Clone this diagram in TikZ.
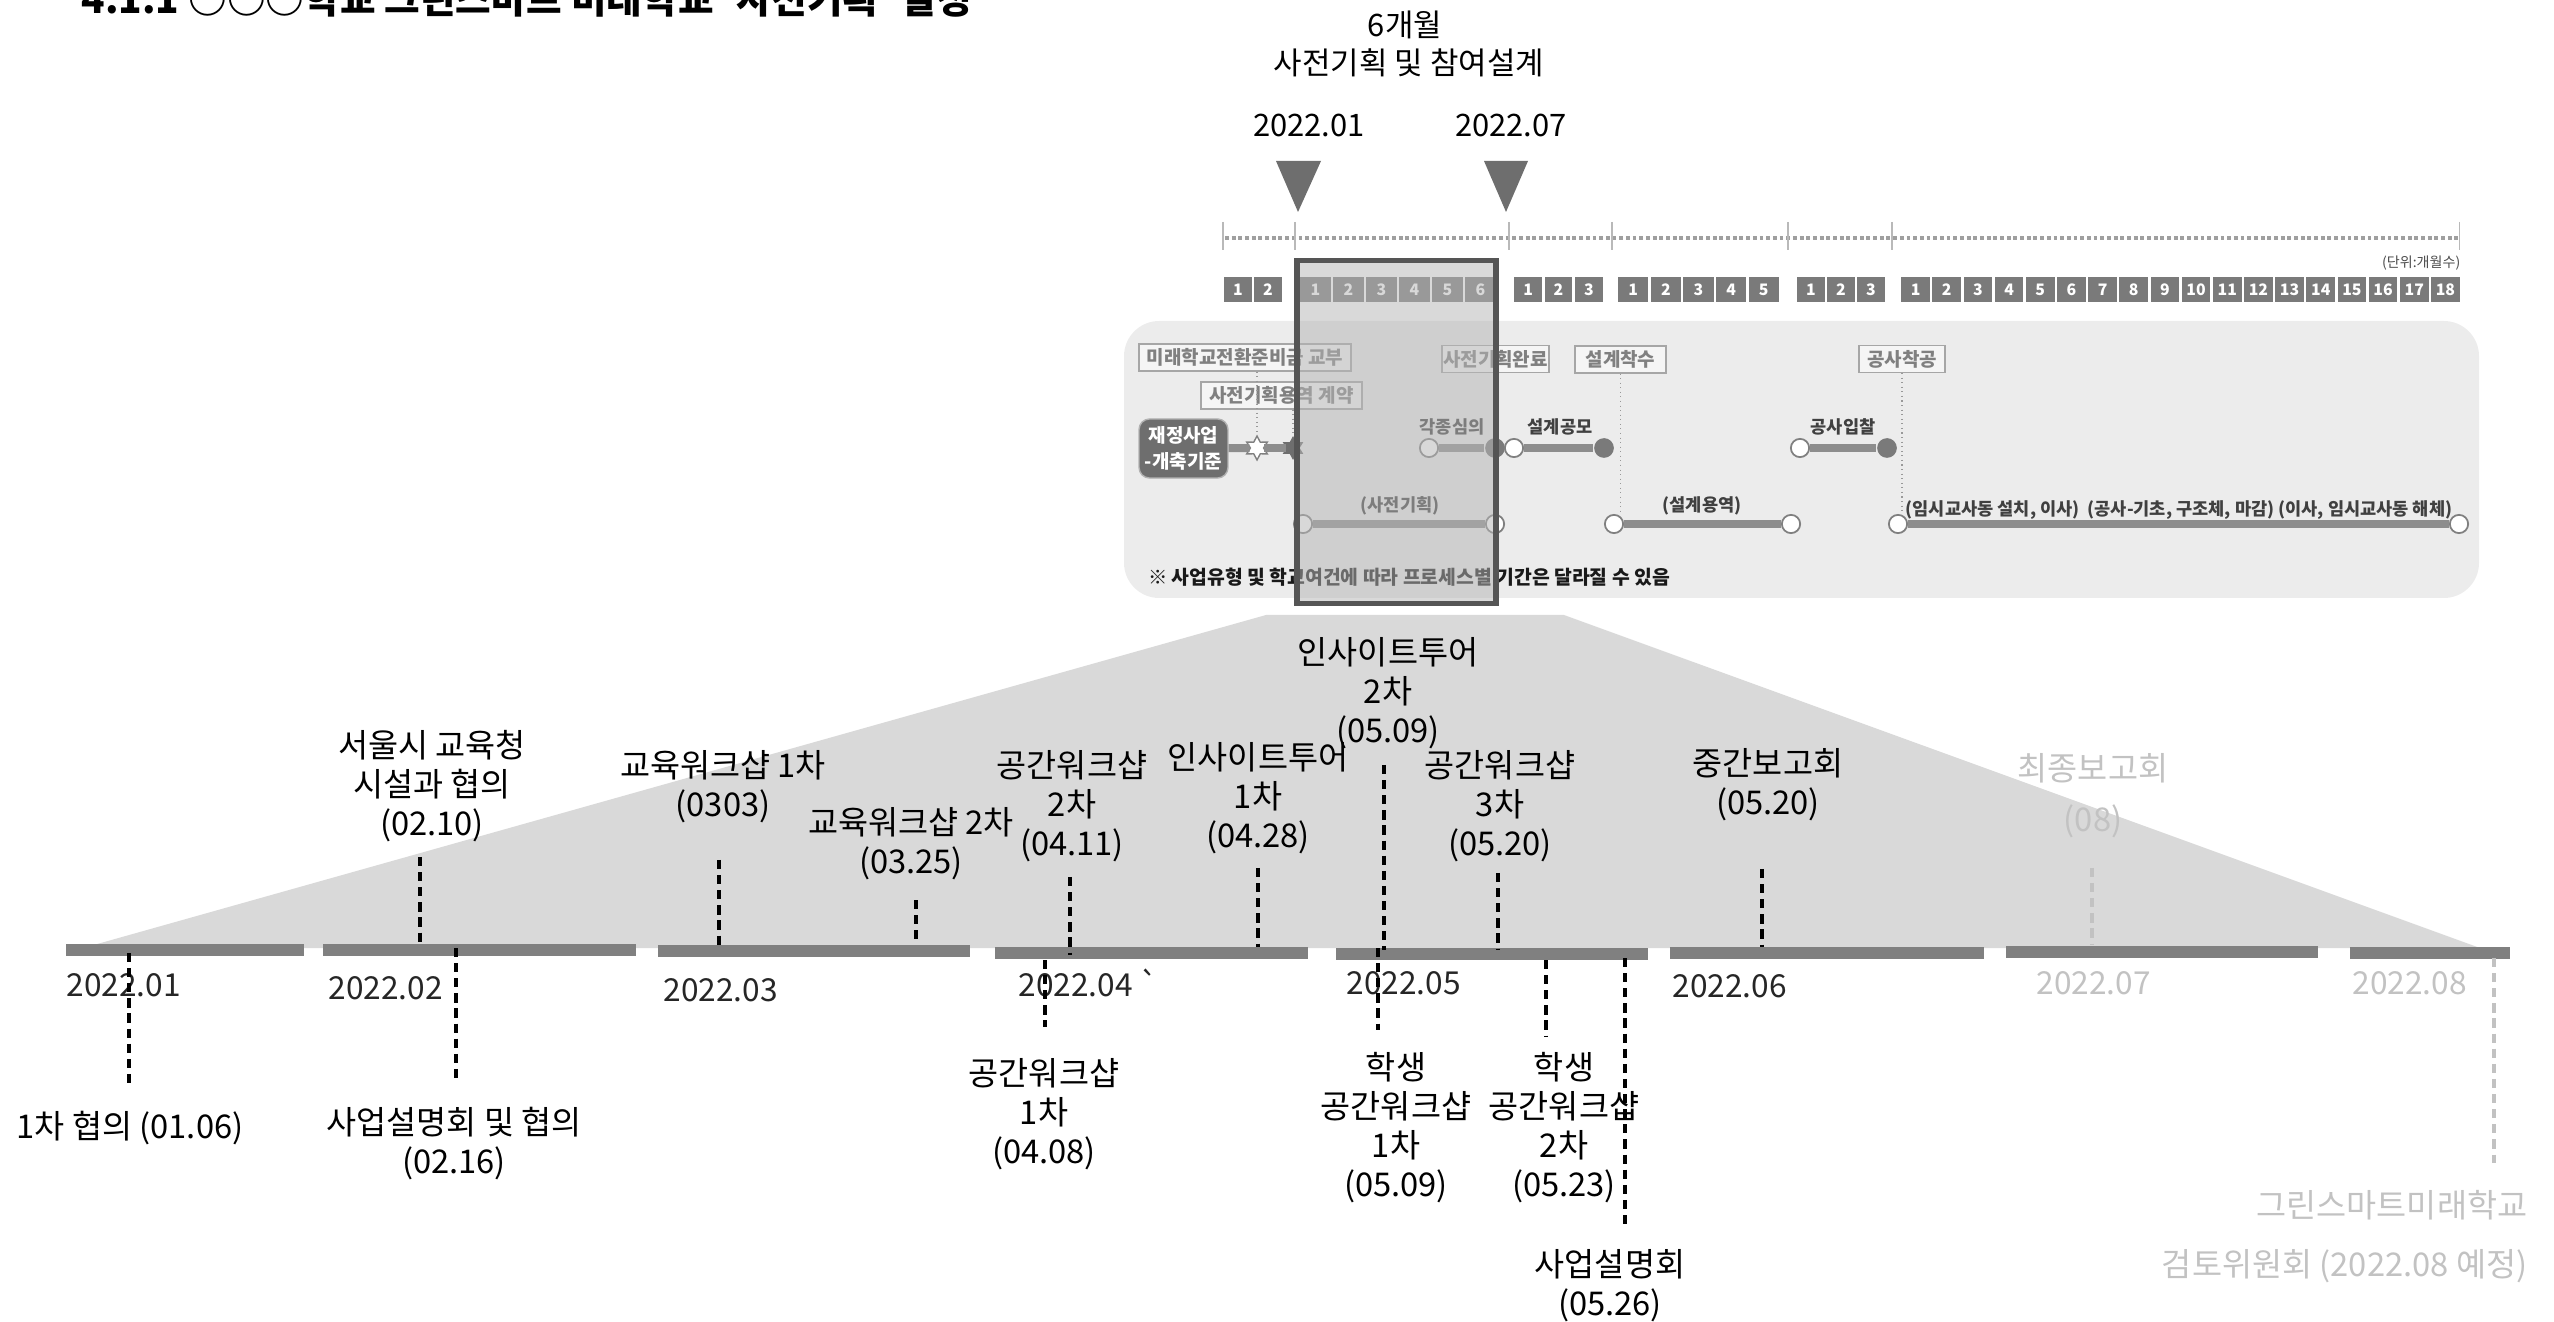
\documentclass[tikz,border=0pt]{standalone}
\usepackage{fontspec}
\setmainfont{Noto Sans CJK KR}
\usetikzlibrary{shapes.geometric}

\definecolor{bargray}{HTML}{808080}
\definecolor{fangray}{HTML}{D9D9D9}
\definecolor{fadetext}{HTML}{C2C2C2}
\definecolor{panelgray}{HTML}{ECECEC}
\definecolor{boxgray}{HTML}{7A7A7A}
\definecolor{markgray}{HTML}{6E6E6E}
\definecolor{framegray}{HTML}{555555}
\definecolor{tintgray}{HTML}{B6B6B6}

\begin{document}
\begin{tikzpicture}[
  x=0.01cm, y=-0.01cm,
  evlabel/.style={
    align=center, inner sep=0pt, font=\fontsize{9.3}{11.1}\selectfont
  },
  mlabel/.style={
    anchor=west, inner sep=0pt, text=black!85, font=\fontsize{9}{10}\selectfont
  },
  toptext/.style={
    inner sep=0pt, font=\fontsize{8.8}{10}\selectfont
  },
  evdash/.style={
    line width=1.4pt, dash pattern=on 2.6pt off 1.7pt
  },
  mbox/.style={
    fill=boxgray, text=white, inner sep=0pt, minimum height=7.1pt,
    font=\fontsize{4.5}{5}\selectfont\bfseries
  },
  pbox/.style={
    draw=gray!70, fill=white!50!panelgray, text=gray, inner sep=0pt,
    minimum height=7.6pt, line width=0.4pt,
    font=\fontsize{5.4}{6}\selectfont\bfseries
  },
  ptext/.style={
    inner sep=0pt, text=black!75, font=\fontsize{5}{6}\selectfont\bfseries
  },
  pline/.style={
    line width=2.3pt, color=bargray!90
  },
  opencirc/.style={
    circle, draw=gray, fill=white, line width=0.5pt, minimum size=5.2pt, inner sep=0pt
  },
  fullcirc/.style={
    circle, fill=boxgray, minimum size=5.6pt, inner sep=0pt
  },
  dotted link/.style={
    gray!80, line width=0.3pt, densely dotted
  }
  ]
  \useasboundingbox (0,0) rectangle (2554,1322);

  % title, cut by the page top
  \node[anchor=base west, inner sep=0pt, font=\fontsize{11}{13}\selectfont\bfseries]
    (title) at (81,14) {4.1.1 ○○○학교 그린스마트 미래학교 '사전기획' 일정};

  % overall schedule
  \node[toptext] (sixmon) at (1405,25) {6개월};
  \node[toptext] (plan) at (1409,63) {사전기획 및 참여설계};
  \node[toptext] (d-start) at (1309,125) {2022.01};
  \node[toptext] (d-end) at (1511,125) {2022.07};
  \fill[markgray] (1276,161) -- (1321,161) -- (1298,212) -- cycle;
  \fill[markgray] (1484,161) -- (1528,161) -- (1506,212) -- cycle;

  \draw[gray!75, line width=0.95pt, dash pattern=on 1.1pt off 0.8pt] (1225,238) -- (2460,238);
  \foreach \x in {1223,1295,1509,1612,1788,1892,2459}
    \draw[gray!55, line width=0.3pt] (\x,222) -- (\x,250);
  \node[anchor=east, inner sep=0pt, text=black!70, font=\fontsize{4}{5}\selectfont]
    (unit) at (2461,263) {(단위:개월수)};

  \foreach \g/\xs/\xe/\k in {1/1223/1283/2, 2/1299/1497/6, 3/1513/1604/3,
                             4/1617/1780/5, 5/1796/1886/3, 6/1900/2461/18}{
    \pgfmathsetmacro\w{(\xe-\xs)/\k}
    \pgfmathsetmacro\bw{(\w-2.5)*0.2845}
    \foreach \j in {1,...,\k}
      \node[mbox, minimum width=\bw pt] (mb\g-\j) at ({\xs+(\j-0.5)*\w},289.5) {\j};
  }

  % process panel
  \fill[panelgray, rounded corners=10pt] (1124,321) rectangle (2479,598);

  \node[pbox, minimum width=60.3pt] (bx-fund) at (1245,357.5) {미래학교전환준비금 교부};
  \node[pbox, minimum width=45.8pt] (bx-contract) at (1281.5,395.5) {사전기획용역 계약};
  \node[pbox, minimum width=30.4pt] (bx-done) at (1495.5,359) {사전기획완료};
  \node[pbox, minimum width=25.9pt] (bx-design) at (1620.5,359.5) {설계착수};
  \node[pbox, minimum width=24.5pt] (bx-build) at (1902,359) {공사착공};

  \node[rounded corners=3pt, fill=markgray, draw=gray!60, text=white, align=center,
    minimum width=25.3pt, minimum height=16.8pt, inner sep=0pt,
    font=\fontsize{5.4}{7.2}\selectfont\bfseries] (fin) at (1183.5,448.5) {재정사업\\-개축기준};
  \node[star, star points=6, star point ratio=1.8, draw=gray, fill=white,
    minimum size=6.8pt, inner sep=0pt] (st1) at (1257,448) {};
  \node[star, star points=6, star point ratio=1.8, fill=markgray,
    minimum size=6.8pt, inner sep=0pt] (st2) at (1293,448) {};
  \draw[pline] (fin) -- (st1);
  \draw[pline] (st1) -- (st2);
  \draw[dotted link] (st1 |- bx-fund.south) -- (st1.north);
  \draw[dotted link] (st2 |- bx-contract.south) -- (st2.north);

  \node[opencirc] (c-rev-a) at (1429,448) {};
  \node[fullcirc] (c-rev-b) at (1495,448) {};
  \node[opencirc] (c-com-a) at (1514,448) {};
  \node[fullcirc] (c-com-b) at (1604,448) {};
  \node[opencirc] (c-bid-a) at (1800,448) {};
  \node[fullcirc] (c-bid-b) at (1887,448) {};
  \draw[pline] (c-rev-a) -- (c-rev-b);
  \draw[pline] (c-com-a) -- (c-com-b);
  \draw[pline] (c-bid-a) -- (c-bid-b);
  \node[ptext] (t-rev) at (1452,427) {각종심의};
  \node[ptext] (t-com) at (1560,427) {설계공모};
  \node[ptext] (t-bid) at (1843,427) {공사입찰};

  \node[opencirc] (c-pre-a) at (1303,524) {};
  \node[opencirc] (c-pre-b) at (1495,524) {};
  \node[opencirc] (c-des-a) at (1614,524) {};
  \node[opencirc] (c-des-b) at (1791,524) {};
  \node[opencirc] (c-con-a) at (1898,524) {};
  \node[opencirc] (c-con-b) at (2459,524) {};
  \draw[pline] (c-pre-a) -- (c-pre-b);
  \draw[pline] (c-des-a) -- (c-des-b);
  \draw[pline] (c-con-a) -- (c-con-b);
  \draw[dotted link] (bx-design.south) -- (bx-design.south |- c-des-a.north);
  \draw[dotted link] (bx-build.south) -- (bx-build.south |- c-con-a.north);
  \node[ptext] (t-pre) at (1400,506) {(사전기획)};
  \node[ptext] (t-des) at (1702,506) {(설계용역)};
  \node[ptext] (t-con) at (2179,510) {(임시교사동 설치, 이사)\ \ (공사-기초, 구조체, 마감) (이사, 임시교사동 해체)};
  \node[ptext, text=black!90, font=\fontsize{5.5}{6}\selectfont\bfseries]
    (note) at (1409,577) {※ 사업유형 및 학교여건에 따라 프로세스별 기간은 달라질 수 있음};

  % selected six months
  \draw[framegray, line width=1.7pt, fill=tintgray, fill opacity=0.52] (1296.5,260.5) rectangle (1496,603.5);

  % zoomed time line
  \fill[fangray] (83,948) -- (1266,615) -- (1564,615) -- (2480,948) -- cycle;
  \foreach \xa/\xb/\ya in {66/304/944, 323/636/944, 658/970/945, 995/1308/947,
                           1336/1648/948, 1670/1984/947, 2006/2318/946, 2350/2510/947}
    \fill[bargray] (\xa,\ya) rectangle (\xb,\ya+12);

  \node[mlabel] (m1) at (66,985) {2022.01};
  \node[mlabel] (m2) at (328,988) {2022.02};
  \node[mlabel] (m3) at (663,990) {2022.03};
  \node[mlabel] (m4) at (1018,983) {2022.04 \textasciigrave};
  \node[mlabel] (m5) at (1346,983) {2022.05};
  \node[mlabel] (m6) at (1672,986) {2022.06};
  \node[mlabel, text=fadetext] (m7) at (2036,983) {2022.07};
  \node[mlabel, text=fadetext] (m8) at (2352,983) {2022.08};

  % events above
  \node[evlabel] (u-seoul) at (432,786) {서울시 교육청\\시설과 협의\\(02.10)};
  \node[evlabel] (u-edu1) at (723,787) {교육워크샵 1차\\(0303)};
  \node[evlabel] (u-edu2) at (911,844) {교육워크샵 2차\\(03.25)};
  \node[evlabel] (u-sp2) at (1072,806) {공간워크샵\\2차\\(04.11)};
  \node[evlabel] (u-ins1) at (1258,798) {인사이트투어\\1차\\(04.28)};
  \node[evlabel] (u-ins2) at (1388,693) {인사이트투어\\2차\\(05.09)};
  \node[evlabel] (u-sp3) at (1500,806) {공간워크샵\\3차\\(05.20)};
  \node[evlabel] (u-mid) at (1768,785) {중간보고회\\(05.20)};
  \node[evlabel, text=fadetext] (u-final) at (2093,796) {최종보고회\\[3.5pt](08)};

  % events below
  \node[evlabel] (l-first) at (130,1128) {1차 협의 (01.06)};
  \node[evlabel] (l-brief) at (454,1144) {사업설명회 및 협의\\(02.16)};
  \node[evlabel] (l-sp1) at (1044,1114) {공간워크샵\\1차\\(04.08)};
  \node[evlabel] (l-st1) at (1396,1128) {학생\\공간워크샵\\1차\\(05.09)};
  \node[evlabel] (l-st2) at (1564,1128) {학생\\공간워크샵\\2차\\(05.23)};
  \node[evlabel] (l-brief2) at (1610,1286) {사업설명회\\(05.26)};
  \node[evlabel, text=fadetext, align=right, anchor=east] (l-review) at (2528,1237)
    {그린스마트미래학교\\[5.7pt]검토위원회 (2022.08 예정)};

  \foreach \n/\x/\ya/\yb in {u1/420/857/943, u2/719/860/945, u3/916/900/943,
                             u4/1070/877/955, u5/1258/868/947, u6/1384/765/950,
                             u7/1498/873/950, u8/1762/869/947,
                             l1/129/953/1085, l2/456/948/1082, l3/1045/960/1027,
                             l4/1378/948/1030, l5/1546/960/1037, l6/1625/958/1227}{
    \coordinate (\n-top) at (\x,\ya);
    \coordinate (\n-bot) at (\x,\yb);
    \draw[evdash] (\n-top) -- (\n-bot);
  }
  \foreach \n/\x/\ya/\yb in {u9/2092/868/945, l7/2494/958/1163}{
    \coordinate (\n-top) at (\x,\ya);
    \coordinate (\n-bot) at (\x,\yb);
    \draw[evdash, fadetext] (\n-top) -- (\n-bot);
  }
\end{tikzpicture}
\end{document}
